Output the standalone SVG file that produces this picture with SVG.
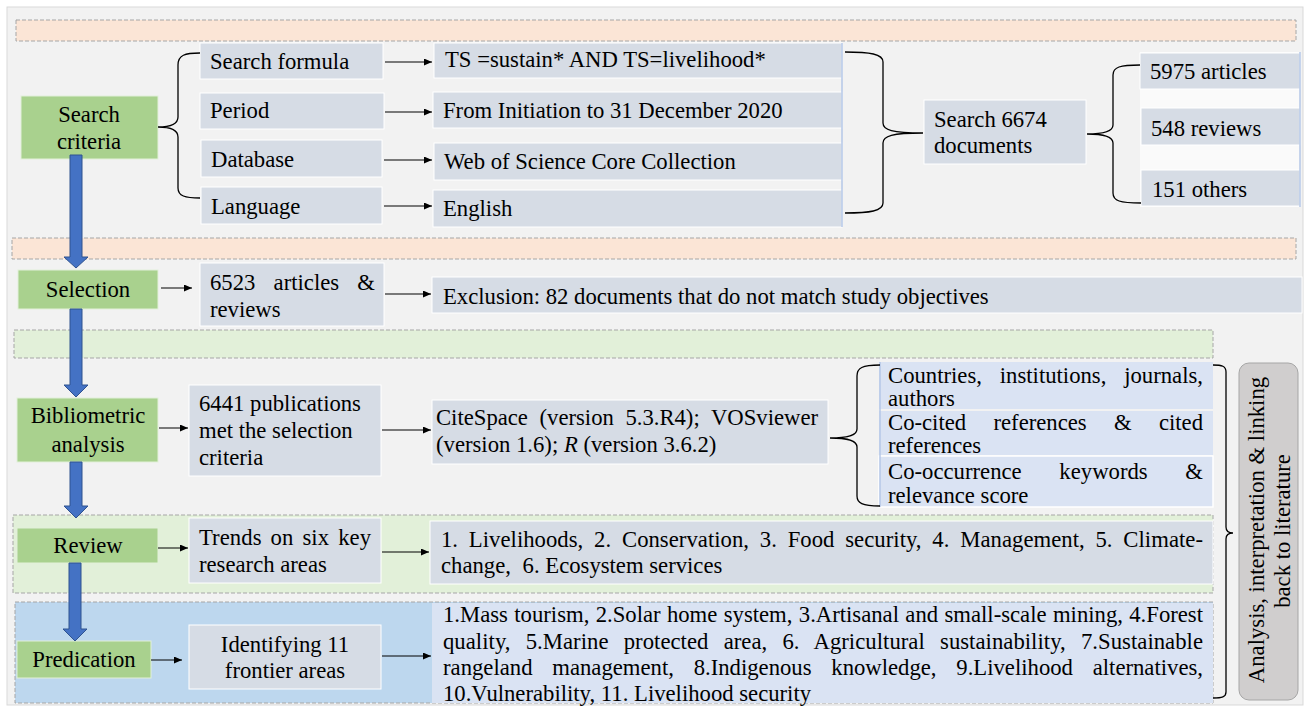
<svg xmlns="http://www.w3.org/2000/svg" width="1307" height="709" viewBox="0 0 1307 709">
<defs>
<style>
.t{font-family:"Liberation Serif","Times New Roman",serif;font-size:22.7px;fill:#000}
.c{text-anchor:middle}
.g{fill:#a9d18e;stroke:#e2f0d9;stroke-width:1}
.b{fill:#d6dce5;stroke:#fff;stroke-width:1}
.lb{fill:#dae3f3}
.band{stroke:#a6a6a6;stroke-dasharray:4 2;stroke-width:1}
.ar{fill:none;stroke:#000;stroke-width:1;marker-end:url(#ah)}
.br{fill:none;stroke:#000;stroke-width:1.3}
.blue{fill:#4472c4;stroke:#2f528f;stroke-width:1}
.edge{stroke:#b4c7e7;stroke-width:1.5}
</style>
<marker id="ah" markerUnits="userSpaceOnUse" markerWidth="8" markerHeight="7" refX="8" refY="3.5" orient="auto">
<path d="M0,0 L8,3.5 L0,7 z" fill="#000"/>
</marker>
</defs>
<rect x="0" y="0" width="1307" height="709" fill="#fff"/>
<rect x="7" y="7" width="1296" height="698" fill="#f2f2f2" stroke="#d9d9d9"/>
<g id="bands">
<rect class="band" x="16" y="20" width="1280" height="21" fill="#fbe5d6"/>
<rect class="band" x="12" y="238" width="1284" height="21" fill="#fbe5d6"/>
<rect class="band" x="14" y="330" width="1199" height="28" fill="#e2f0d9"/>
<rect class="band" x="13" y="515" width="1200" height="78" fill="#e2f0d9"/>
<rect class="band" x="15" y="602" width="1198" height="101" fill="#bdd7ee"/>
</g>
<g id="n-search-criteria"><rect class="g" x="21" y="96" width="137" height="63"/><text class="t c" x="89" y="122">Search</text><text class="t c" x="89" y="149">criteria</text></g>
<g id="n-search-formula"><rect class="b" x="200" y="43" width="183" height="36"/><text class="t" x="210" y="69">Search formula</text></g>
<g id="n-period"><rect class="b" x="200" y="93" width="184" height="36"/><text class="t" x="210" y="118">Period</text></g>
<g id="n-database"><rect class="b" x="201" y="140" width="181" height="37"/><text class="t" x="211" y="167">Database</text></g>
<g id="n-language"><rect class="b" x="201" y="187" width="181" height="37"/><text class="t" x="211" y="214">Language</text></g>
<g id="n-ts"><rect class="b" x="434" y="43" width="408" height="35"/><text class="t" x="445" y="67">TS =sustain* AND TS=livelihood*</text></g>
<g id="n-from"><rect class="b" x="433" y="92" width="409" height="36"/><text class="t" x="443" y="118">From Initiation to 31 December 2020</text></g>
<g id="n-wos"><rect class="b" x="434" y="143" width="408" height="37"/><text class="t" x="444" y="169">Web of Science Core Collection</text></g>
<g id="n-english"><rect class="b" x="433" y="190" width="409" height="37"/><text class="t" x="443" y="216">English</text></g>
<line class="edge" x1="842" y1="43" x2="842" y2="227"/>
<g id="n-search6674"><rect class="b" x="924" y="100" width="162" height="64"/><text class="t" x="934" y="127">Search 6674</text><text class="t" x="934" y="153">documents</text></g>
<g id="n-doc-types">
<rect x="1140" y="52" width="160" height="155" fill="#fafafa"/>
<rect class="b" x="1140" y="53" width="160" height="36"/><text class="t" x="1150" y="79">5975 articles</text>
<rect class="b" x="1141" y="108" width="159" height="37"/><text class="t" x="1151" y="136">548 reviews</text>
<rect class="b" x="1141" y="170" width="159" height="36"/><text class="t" x="1152" y="197">151 others</text>
<line class="edge" x1="1300" y1="52" x2="1300" y2="207"/>
</g>
<g id="n-selection"><rect class="g" x="18" y="270" width="140" height="39"/><text class="t c" x="88" y="297">Selection</text></g>
<g id="n-6523"><rect class="b" x="200" y="263" width="184" height="63"/><text class="t" x="210" y="290" word-spacing="12.5" textLength="165" lengthAdjust="spacing">6523 articles &amp;</text><text class="t" x="210" y="317">reviews</text></g>
<g id="n-exclusion"><rect class="b" x="432" y="277" width="870" height="36"/><text class="t" x="443" y="304">Exclusion: 82 documents that do not match study objectives</text></g>
<g id="n-bibliometric"><rect class="g" x="17" y="398" width="141" height="64"/><text class="t c" x="88" y="423">Bibliometric</text><text class="t c" x="88" y="452">analysis</text></g>
<g id="n-6441"><rect class="b" x="189" y="385" width="192" height="91"/><text class="t" x="199" y="411">6441 publications</text><text class="t" x="199" y="438">met the selection</text><text class="t" x="199" y="465">criteria</text></g>
<g id="n-citespace"><rect class="b" x="432" y="400" width="396" height="64"/><text class="t" x="436" y="425" word-spacing="6" textLength="382" lengthAdjust="spacing">CiteSpace (version 5.3.R4); VOSviewer</text><text class="t" x="436" y="452">(version 1.6); <tspan font-style="italic">R</tspan> (version 3.6.2)</text></g>
<g id="n-analysis-items">
<rect class="lb" x="879" y="362" width="334" height="47"/>
<text class="t" x="888" y="383" word-spacing="12.1" textLength="315" lengthAdjust="spacing">Countries, institutions, journals,</text><text class="t" x="888" y="406">authors</text>
<rect class="lb" x="879" y="411" width="334" height="44"/>
<text class="t" x="888" y="430" word-spacing="21.6" textLength="315" lengthAdjust="spacing">Co-cited references &amp; cited</text><text class="t" x="888" y="453">references</text>
<rect class="lb" x="879" y="456" width="334" height="51" stroke="#fff" stroke-width="1.5"/>
<text class="t" x="888" y="479" word-spacing="32" textLength="315" lengthAdjust="spacing">Co-occurrence keywords &amp;</text><text class="t" x="888" y="503">relevance score</text>
<line class="edge" x1="880" y1="362" x2="880" y2="507"/>
</g>
<g id="n-review"><rect class="g" x="17" y="528" width="141" height="35"/><text class="t c" x="88" y="553">Review</text></g>
<g id="n-trends"><rect class="b" x="189" y="518" width="192" height="65"/><text class="t" x="199" y="545" word-spacing="3.3" textLength="172" lengthAdjust="spacing">Trends on six key</text><text class="t" x="199" y="572">research areas</text></g>
<g id="n-six-areas"><rect class="b" x="430" y="521" width="783" height="63"/><text class="t" x="441" y="547" word-spacing="5.1" textLength="762" lengthAdjust="spacing">1. Livelihoods, 2. Conservation, 3. Food security, 4. Management, 5. Climate-</text><text class="t" x="441" y="573">change,<tspan dx="6"> 6. Ecosystem services</tspan></text></g>
<g id="n-predication"><rect class="g" x="17" y="641" width="134" height="37"/><text class="t c" x="84" y="667">Predication</text></g>
<g id="n-identifying"><rect class="b" x="189" y="625" width="192" height="64"/><text class="t c" x="285" y="652">Identifying 11</text><text class="t c" x="285" y="678">frontier areas</text></g>
<g id="n-frontier-areas"><rect class="lb" x="432" y="603" width="781" height="100"/>
<text class="t" x="443" y="622" word-spacing="0.7" textLength="760" lengthAdjust="spacing">1.Mass tourism, 2.Solar home system, 3.Artisanal and small-scale mining, 4.Forest</text>
<text class="t" x="443" y="649" word-spacing="9.5" textLength="760" lengthAdjust="spacing">quality, 5.Marine protected area, 6. Agricultural sustainability, 7.Sustainable</text>
<text class="t" x="443" y="675" word-spacing="14.1" textLength="760" lengthAdjust="spacing">rangeland management, 8.Indigenous knowledge, 9.Livelihood alternatives,</text>
<text class="t" x="443" y="701">10.Vulnerability, 11. Livelihood security</text></g>
<g id="n-interpretation"><rect x="1239" y="363" width="59" height="337" rx="10" ry="10" fill="#d0cece" stroke="#a6a6a6"/>
<text class="t c" transform="translate(1264,530) rotate(-90)">Analysis, interpretation &amp; linking</text>
<text class="t c" transform="translate(1290,531) rotate(-90)">back to literature</text></g>
<g id="connectors">
<path class="br" d="M200,53 C185,53 178,55 178,65 L178,117 C178,124 172,127 158,127 C172,127 178,130 178,137 L178,188 C178,196 185,198 200,198"/>
<path class="br" d="M845,52 C870,52 883,54 883,62 L883,123 C883,130 892,133 923,133 C892,133 883,136 883,143 L883,203 C883,211 870,213 845,213"/>
<path class="br" d="M1140,65 C1120,65 1113,67 1113,75 L1113,125 C1113,131 1105,134 1087,134 C1105,134 1113,137 1113,143 L1113,193 C1113,201 1120,203 1141,203"/>
<path class="br" d="M880,365 C862,365 857,368 857,376 L857,429 C857,435 850,438 830,438 C850,438 857,441 857,447 L857,496 C857,503 862,506 880,506"/>
<path class="br" d="M1213,365 C1222,365 1226,366 1226,372 L1226,527 C1226,531 1228,533 1233,533 C1228,533 1226,535 1226,539 L1226,692 C1226,697 1222,698 1213,698"/>
<line class="ar" x1="385" y1="62" x2="432" y2="62"/>
<line class="ar" x1="385" y1="112" x2="432" y2="112"/>
<line class="ar" x1="384" y1="160" x2="432" y2="160"/>
<line class="ar" x1="384" y1="206" x2="432" y2="206"/>
<line class="ar" x1="161" y1="288" x2="192" y2="288"/>
<line class="ar" x1="385" y1="294" x2="431" y2="294"/>
<line class="ar" x1="159" y1="428" x2="188" y2="428"/>
<line class="ar" x1="382" y1="430" x2="431" y2="430"/>
<line class="ar" x1="158" y1="548" x2="188" y2="548"/>
<line class="ar" x1="382" y1="552" x2="429" y2="552"/>
<line class="ar" x1="151" y1="660" x2="182" y2="660"/>
<line class="ar" x1="382" y1="656" x2="431" y2="656"/>
<path class="blue" d="M70,155 L82,155 L82,257 L88,257 L76,268 L64,257 L70,257 Z"/>
<path class="blue" d="M70,309 L82,309 L82,385 L88,385 L76,397 L64,385 L70,385 Z"/>
<path class="blue" d="M70,462 L82,462 L82,506 L88,506 L76,518 L64,506 L70,506 Z"/>
<path class="blue" d="M69,563 L81,563 L81,629 L87,629 L75,641 L63,629 L69,629 Z"/>
</g>
</svg>
